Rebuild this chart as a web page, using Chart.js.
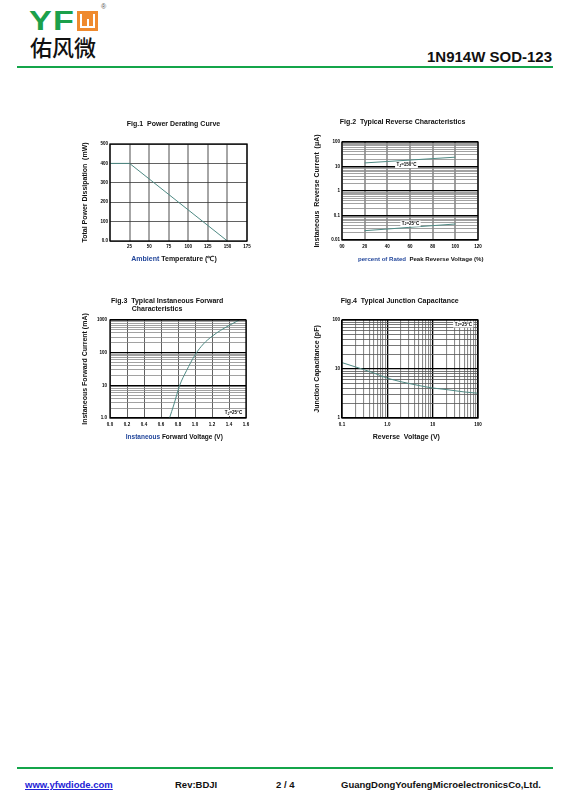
<!DOCTYPE html>
<html>
<head>
<meta charset="utf-8">
<script src="https://cdn.jsdelivr.net/npm/chart.js@4.4.1/dist/chart.umd.min.js"></script>
<style>
  html, body { margin: 0; padding: 0; background: #fff; }
  body { width: 567px; height: 804px; position: relative; overflow: hidden;
         font-family: "Liberation Sans", Arial, sans-serif; }
  .abs { position: absolute; }
  .fig { position: absolute; width: 190px; height: 160px; }
  .rule { position: absolute; left: 17px; width: 536px; height: 2px; background: #14a54a; }
  .foot { position: absolute; top: 779px; font-size: 9.5px; font-weight: bold; color: #111; white-space: nowrap; }
</style>
</head>
<body>
<!-- header -->
<div class="abs" style="left:29px;top:5px;font-size:28px;font-weight:bold;color:#1ba04b;letter-spacing:1px;transform:scaleX(1.22);transform-origin:left top;line-height:32px;">YF</div>
<div class="abs" style="left:77px;top:11px;width:21px;height:20px;background:#ef8a2e;">
  <div class="abs" style="left:3px;top:3px;width:2px;height:14px;background:#fff;"></div>
  <div class="abs" style="left:16px;top:3px;width:2px;height:14px;background:#fff;"></div>
  <div class="abs" style="left:3px;top:15px;width:15px;height:2px;background:#fff;"></div>
  <div class="abs" style="left:9.5px;top:8px;width:2px;height:8px;background:#fff;"></div>
</div>
<div class="abs" style="left:101px;top:3px;font-size:7px;color:#555;">®</div>
<div class="abs" style="left:30px;top:32px;font-size:22px;font-family:'Noto Sans CJK SC',sans-serif;font-weight:500;color:#111;line-height:28px;">佑风微</div>
<div class="abs" style="left:427px;top:48px;font-size:15px;font-weight:bold;color:#111;white-space:nowrap;line-height:18px;">1N914W SOD-123</div>
<div class="rule" style="top:66px;"></div>

<div class="fig" style="left:78px;top:112px;"><canvas id="fig1"></canvas></div>
<div class="fig" style="left:310px;top:112px;"><canvas id="fig2"></canvas></div>
<div class="fig" style="left:78px;top:288px;"><canvas id="fig3"></canvas></div>
<div class="fig" style="left:310px;top:288px;"><canvas id="fig4"></canvas></div>

<!-- footer -->
<div class="rule" style="top:767px;"></div>
<div class="foot" style="left:25px;color:#2323d6;text-decoration:underline;">www.yfwdiode.com</div>
<div class="foot" style="left:175px;">Rev:BDJI</div>
<div class="foot" style="left:276px;">2 / 4</div>
<div class="foot" style="left:341px;">GuangDongYoufengMicroelectronicsCo,Ltd.</div>

<script>
// Fig.1 power derating
const fig1Temp = [0, 25, 150];
const fig1Power = [400, 400, 0];
const fig1XLabels = ['', '25', '50', '75', '100', '125', '150', '175'];
const fig1YLabels = ['0.0', '100', '200', '300', '400', '500'];

// Fig.2 reverse current vs % of rated voltage
const fig2Percent = [20, 40, 60, 80, 100];
const fig2Ir150 = [14, 16, 18.3, 21, 24];
const fig2Ir25 = [0.024, 0.028, 0.033, 0.0385, 0.045];
const fig2XLabels = ['00', '20', '40', '60', '80', '100', '120'];
const fig2YTicks = [0.01, 0.1, 1, 10, 100];
const fig2YLabels = ['0.01', '0.1', '1', '10', '100'];

// Fig.3 forward characteristics
const fig3Vf = [0.70, 0.75, 0.82, 0.90, 1.00, 1.10, 1.20, 1.30, 1.40, 1.52];
const fig3If = [1.0, 2.5, 10, 28, 85, 186, 316, 480, 676, 1000];
const fig3XLabels = ['0.0', '0.2', '0.4', '0.6', '0.8', '1.0', '1.2', '1.4', '1.6'];
const fig3YTicks = [1, 10, 100, 1000];
const fig3YLabels = ['1.0', '10', '100', '1000'];

// Fig.4 junction capacitance
const fig4Vr = [0.1, 0.2, 0.5, 1, 2, 5, 10, 20, 50, 100];
const fig4Cj = [13.5, 11, 8.3, 6.5, 5.5, 4.6, 4.1, 3.8, 3.4, 3.2];
const fig4XTicks = [0.1, 1, 10, 100];
const fig4XLabels = ['0.1', '1.0', '10', '100'];
const fig4YTicks = [1, 10, 100];
const fig4YLabels = ['1', '10', '100'];

Chart.defaults.font.family = '"Liberation Sans", Arial, sans-serif';
Chart.defaults.color = '#000';

const FONT = '"Liberation Sans", Arial, sans-serif';
const CURVE = '#4f8a84';
const tickFont = { size: 4.5, weight: 'bold' };

// 1..9 lines inside each decade
function logGrid(decades) {
  const out = [];
  for (let i = 0; i < decades.length - 1; i++) {
    for (let m = 1; m < 10; m++) out.push(+(m * decades[i]).toPrecision(6));
  }
  out.push(decades[decades.length - 1]);
  return out;
}

function pts(xs, ys) {
  return xs.map((x, i) => ({ x: x, y: ys[i] }));
}

// titles, frame and T_J labels
const sheetDecor = {
  id: 'sheetDecor',
  afterDraw(chart, args, opts) {
    const ctx = chart.ctx;
    const a = chart.chartArea;
    ctx.save();
    ctx.strokeStyle = '#000';
    ctx.lineWidth = 1.3;
    ctx.strokeRect(a.left, a.top, a.right - a.left, a.bottom - a.top);

    ctx.textBaseline = 'middle';
    ctx.font = 'bold 7px ' + FONT;
    ctx.fillStyle = '#111';
    (opts.title || []).forEach(t => {
      ctx.textAlign = t.align || 'center';
      ctx.fillText(t.text, t.x, t.y);
    });

    if (opts.xTitle) {
      const parts = opts.xTitle.parts;
      ctx.font = 'bold ' + (opts.xTitle.size || 7) + 'px ' + FONT;
      ctx.textAlign = 'left';
      const total = parts.reduce((s, p) => s + ctx.measureText(p.text).width, 0);
      let x = opts.xTitle.x - total / 2;
      parts.forEach(p => {
        ctx.fillStyle = p.color;
        ctx.fillText(p.text, x, opts.xTitle.y);
        x += ctx.measureText(p.text).width;
      });
    }

    (opts.tags || []).forEach(t => {
      const big = 'bold 4.5px ' + FONT, small = 'bold 3.4px ' + FONT;
      ctx.font = big;
      const wT = ctx.measureText('T').width;
      const wRest = ctx.measureText(t.rest).width;
      ctx.font = small;
      const wJ = ctx.measureText('J').width;
      const w = wT + wJ + wRest + 3;
      ctx.fillStyle = '#fff';
      ctx.fillRect(t.x - w / 2, t.y - 3, w, 6);
      ctx.fillStyle = '#000';
      ctx.textAlign = 'left';
      let x = t.x - w / 2 + 1.5;
      ctx.font = big;
      ctx.fillText('T', x, t.y);
      x += wT;
      ctx.font = small;
      ctx.fillText('J', x, t.y + 1);
      x += wJ;
      ctx.font = big;
      ctx.fillText(t.rest, x, t.y);
    });
    ctx.restore();
  }
};

function yTitle(text) {
  return { display: true, text: text, font: { size: 7, weight: 'bold' }, color: '#111', padding: { top: 2.8, bottom: 0 } };
}

function makeChart(id, cfg) {
  return new Chart(document.getElementById(id), {
    type: 'line',
    data: { datasets: cfg.datasets },
    options: {
      responsive: true,
      maintainAspectRatio: false,
      animation: false,
      layout: { padding: { top: cfg.padTop, right: cfg.padRight, left: 0, bottom: 0 } },
      plugins: {
        legend: { display: false },
        tooltip: { enabled: false },
        sheetDecor: cfg.decor
      },
      elements: { point: { radius: 0 } },
      scales: {
        x: Object.assign({
          border: { display: false },
          afterFit: s => { s.height = cfg.xHeight; }
        }, cfg.x),
        y: Object.assign({
          border: { display: false },
          afterFit: s => { s.width = 32; }
        }, cfg.y)
      }
    },
    plugins: [sheetDecor]
  });
}

// ---- Fig.1
makeChart('fig1', {
  padTop: 32, padRight: 21, xHeight: 31,
  datasets: [{ data: pts(fig1Temp, fig1Power), borderColor: CURVE, borderWidth: 1, tension: 0 }],
  x: {
    type: 'linear', min: 0, max: 175,
    grid: { color: '#a6a6a6', lineWidth: 2, drawTicks: false },
    ticks: { stepSize: 25, padding: 3, font: tickFont, maxRotation: 0, autoSkip: false,
             callback: (v, i) => fig1XLabels[i] }
  },
  y: {
    type: 'linear', min: 0, max: 500,
    grid: { color: '#3a3a3a', lineWidth: 0.8, drawTicks: false },
    ticks: { stepSize: 100, padding: 2, font: tickFont, callback: (v, i) => fig1YLabels[i] },
    title: yTitle('Total Power Dissipation  (mW)')
  },
  decor: {
    title: [{ text: 'Fig.1  Power Derating Curve', x: 95.5, y: 12 }],
    xTitle: { x: 96, y: 147, parts: [{ text: 'Ambient ', color: '#23479b' }, { text: 'Temperature (\u2103)', color: '#111' }] }
  }
});

// ---- Fig.2
const fig2Grid = logGrid(fig2YTicks);
makeChart('fig2', {
  padTop: 30, padRight: 22, xHeight: 32,
  datasets: [
    { data: pts(fig2Percent, fig2Ir150), borderColor: CURVE, borderWidth: 1, tension: 0 },
    { data: pts(fig2Percent, fig2Ir25), borderColor: CURVE, borderWidth: 1, tension: 0 }
  ],
  x: {
    type: 'linear', min: 0, max: 120,
    grid: { color: '#a0a0a0', lineWidth: 2, drawTicks: false },
    ticks: { stepSize: 20, padding: 4, font: tickFont, maxRotation: 0, autoSkip: false,
             callback: (v, i) => fig2XLabels[i] }
  },
  y: {
    type: 'logarithmic', min: 0.01, max: 100,
    afterBuildTicks: s => { s.ticks = fig2Grid.map(v => ({ value: v })); },
    grid: {
      drawTicks: false,
      color: c => (c.tick && fig2YTicks.includes(c.tick.value)) ? '#000' : '#8a8a8a',
      lineWidth: c => (c.tick && fig2YTicks.includes(c.tick.value)) ? 1.3 : 0.8
    },
    ticks: { padding: 2, font: tickFont, autoSkip: false,
             callback: v => { const i = fig2YTicks.indexOf(v); return i >= 0 ? fig2YLabels[i] : ''; } },
    title: yTitle('Instaneous  Reverse Current  (\u03bcA)')
  },
  decor: {
    title: [{ text: 'Fig.2  Typical Reverse Characteristics', x: 92.5, y: 10.5 }],
    xTitle: { x: 110.7, y: 147, size: 6.1, parts: [{ text: 'percent of Rated ', color: '#23479b' }, { text: ' Peak Reverse Voltage (%)', color: '#111' }] },
    tags: [{ rest: '=150\u00b0C', x: 96.5, y: 53 }, { rest: '=25\u00b0C', x: 100.5, y: 111.5 }]
  }
});

// ---- Fig.3
const fig3Grid = logGrid(fig3YTicks);
makeChart('fig3', {
  padTop: 32, padRight: 22, xHeight: 30,
  datasets: [{ data: pts(fig3Vf, fig3If), borderColor: CURVE, borderWidth: 1, cubicInterpolationMode: 'monotone' }],
  x: {
    type: 'linear', min: 0, max: 1.6,
    grid: { color: '#505050', lineWidth: 0.9, drawTicks: false },
    ticks: { stepSize: 0.2, padding: 4, font: tickFont, maxRotation: 0, autoSkip: false,
             callback: (v, i) => fig3XLabels[i] }
  },
  y: {
    type: 'logarithmic', min: 1, max: 1000,
    afterBuildTicks: s => { s.ticks = fig3Grid.map(v => ({ value: v })); },
    grid: {
      drawTicks: false,
      color: c => (c.tick && fig3YTicks.includes(c.tick.value)) ? '#000' : '#8a8a8a',
      lineWidth: c => (c.tick && fig3YTicks.includes(c.tick.value)) ? 1.3 : 0.8
    },
    ticks: { padding: 3, font: tickFont, autoSkip: false,
             callback: v => { const i = fig3YTicks.indexOf(v); return i >= 0 ? fig3YLabels[i] : ''; } },
    title: yTitle('Instaneous Forward Current (mA)')
  },
  decor: {
    title: [
      { text: 'Fig.3  Typical Instaneous Forward', x: 33, y: 13, align: 'left' },
      { text: 'Characteristics', x: 53.7, y: 20.7, align: 'left' }
    ],
    xTitle: { x: 96.3, y: 149, size: 6.5, parts: [{ text: 'Instaneous ', color: '#23479b' }, { text: 'Forward Voltage (V)', color: '#111' }] },
    tags: [{ rest: '=25\u00b0C', x: 155.5, y: 125 }]
  }
});

// ---- Fig.4
const fig4XGrid = logGrid(fig4XTicks);
const fig4YGrid = logGrid(fig4YTicks);
makeChart('fig4', {
  padTop: 32, padRight: 22, xHeight: 30,
  datasets: [{ data: pts(fig4Vr, fig4Cj), borderColor: CURVE, borderWidth: 1, cubicInterpolationMode: 'monotone' }],
  x: {
    type: 'logarithmic', min: 0.1, max: 100,
    afterBuildTicks: s => { s.ticks = fig4XGrid.map(v => ({ value: v })); },
    grid: {
      drawTicks: false,
      color: c => (c.tick && fig4XTicks.includes(c.tick.value)) ? '#000' : '#8c8c8c',
      lineWidth: c => (c.tick && fig4XTicks.includes(c.tick.value)) ? 1.3 : 1.1
    },
    ticks: { padding: 4, font: tickFont, maxRotation: 0, autoSkip: false,
             callback: v => { const i = fig4XTicks.indexOf(v); return i >= 0 ? fig4XLabels[i] : ''; } }
  },
  y: {
    type: 'logarithmic', min: 1, max: 100,
    afterBuildTicks: s => { s.ticks = fig4YGrid.map(v => ({ value: v })); },
    grid: {
      drawTicks: false,
      color: c => (c.tick && fig4YTicks.includes(c.tick.value)) ? '#000' : '#555',
      lineWidth: c => (c.tick && fig4YTicks.includes(c.tick.value)) ? 1.3 : 0.8
    },
    ticks: { padding: 2, font: tickFont, autoSkip: false,
             callback: v => { const i = fig4YTicks.indexOf(v); return i >= 0 ? fig4YLabels[i] : ''; } },
    title: yTitle('Junction Capacitance (pF)')
  },
  decor: {
    title: [{ text: 'Fig.4  Typical Junction Capacitance', x: 89.7, y: 13 }],
    xTitle: { x: 96.3, y: 149, parts: [{ text: 'Reverse  Voltage (V)', color: '#111' }] },
    tags: [{ rest: '=25\u00b0C', x: 153.3, y: 36.5 }]
  }
});
</script>
</body>
</html>
